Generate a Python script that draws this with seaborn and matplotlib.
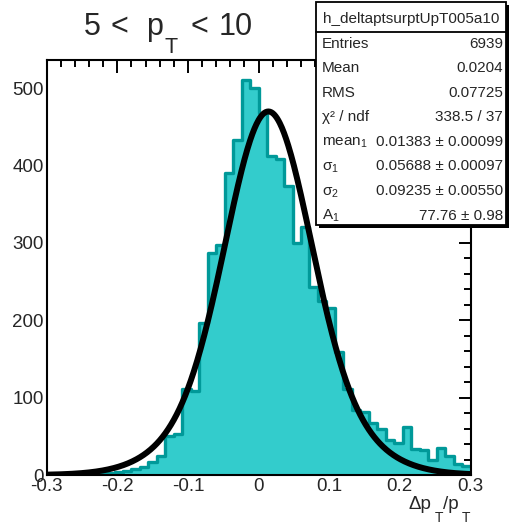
import numpy as np
import pandas as pd
import matplotlib
matplotlib.use("Agg")
import matplotlib.pyplot as plt
import seaborn as sns
from matplotlib.patches import Rectangle
from matplotlib.lines import Line2D
from matplotlib.ticker import MultipleLocator

# ---------------- data ----------------
bin_low = -0.3
bin_high = 0.3
n_bins = 50
counts = [1, 1, 1, 0, 2, 3, 3, 3, 4, 5,
          8, 10, 17, 24, 50, 53, 111, 108, 196, 287,
          298, 391, 433, 511, 500, 468, 412, 409, 373, 300,
          321, 243, 225, 216, 159, 111, 84, 81, 67, 60,
          45, 41, 62, 33, 32, 20, 35, 24, 14, 11]

# fit parameters (from stats box) + read peak height / core fraction
fit_mean = 0.01383
fit_sigma1 = 0.05688
fit_sigma2 = 0.09235
fit_peak = 470.0
fit_core_frac = 0.69

xtick_vals = [-0.3, -0.2, -0.1, 0.0, 0.1, 0.2, 0.3]
xtick_labels = ["-0.3", "-0.2", "-0.1", "0", "0.1", "0.2", "0.3"]
ytick_vals = [0, 100, 200, 300, 400, 500]
ytick_labels = ["0", "100", "200", "300", "400", "500"]

hist_name = "h_deltaptsurptUpT005a10"
stat_labels = ["Entries", "Mean", "RMS", "\u03c7\u00b2 / ndf", "mean$_1$",
               "\u03c3$_1$", "\u03c3$_2$", "A$_1$"]
stat_values = ["6939", "0.0204", "0.07725", "338.5 / 37",
               "0.01383 \u00b1 0.00099", "0.05688 \u00b1 0.00097",
               "0.09235 \u00b1 0.00550", "77.76 \u00b1 0.98"]

fill_color = "#33cccc"
line_color = "#009999"

# ---------------- style ----------------
sns.set_style("white")
plt.rcParams["font.family"] = ["Liberation Sans", "DejaVu Sans"]
plt.rcParams["mathtext.fontset"] = "custom"
plt.rcParams["mathtext.rm"] = "Liberation Sans"
plt.rcParams["mathtext.it"] = "Liberation Sans"
plt.rcParams["mathtext.bf"] = "Liberation Sans:bold"
plt.rcParams["axes.unicode_minus"] = False

W, H = 511, 524
def fx(px):
    return px / W
def fy(py):
    return 1 - py / H

fig = plt.figure(figsize=(W / 100, H / 100), dpi=100)
fig.patch.set_facecolor("white")
ax = fig.add_axes([fx(46.7), fy(475), (470.5 - 46.7) / W, (475 - 60) / H])
ax.set_facecolor("white")

edges = np.linspace(bin_low, bin_high, n_bins + 1)
centers = 0.5 * (edges[:-1] + edges[1:])
df = pd.DataFrame({"x": centers, "n": counts})

sns.histplot(data=df, x="x", weights="n", bins=n_bins, binrange=(bin_low, bin_high),
             element="step", fill=True, color=fill_color, alpha=1,
             edgecolor="none", linewidth=0, ax=ax)
sns.histplot(data=df, x="x", weights="n", bins=n_bins, binrange=(bin_low, bin_high),
             element="step", fill=False, color=line_color, linewidth=2.4, ax=ax)

xs = np.linspace(bin_low, bin_high, 601)
ys = fit_peak * (fit_core_frac * np.exp(-0.5 * ((xs - fit_mean) / fit_sigma1) ** 2)
                 + (1 - fit_core_frac) * np.exp(-0.5 * ((xs - fit_mean) / fit_sigma2) ** 2))
sns.lineplot(x=xs, y=ys, color="black", linewidth=4.3, ax=ax)

ax.set_xlim(bin_low, bin_high)
ax.set_ylim(0, 1.05 * max(counts))
ax.set_xticks(xtick_vals)
ax.set_xticklabels(xtick_labels)
ax.set_yticks(ytick_vals)
ax.set_yticklabels(ytick_labels)
ax.xaxis.set_minor_locator(MultipleLocator(0.02))
ax.yaxis.set_minor_locator(MultipleLocator(20))
ax.tick_params(which="both", direction="in", top=True, right=True,
               width=1.4, color="black", labelsize=13.5, pad=2)
ax.tick_params(which="major", length=9)
ax.tick_params(which="minor", length=4.7)
ax.set_xlabel("")
ax.set_ylabel("")
for s in ax.spines.values():
    s.set_linewidth(1.5)
    s.set_color("black")
    s.set_visible(True)

# ---------------- title ----------------
t_base = 35
fig.text(fx(92.5), fy(t_base), "5", fontsize=22, ha="center", va="baseline")
fig.text(fx(119), fy(t_base), "<", fontsize=22, ha="center", va="baseline")
fig.text(fx(155), fy(t_base), "p", fontsize=22, ha="center", va="baseline")
fig.text(fx(171), fy(53), "T", fontsize=15.5, ha="center", va="baseline")
fig.text(fx(199), fy(t_base), "<", fontsize=22, ha="center", va="baseline")
fig.text(fx(236), fy(t_base), "10", fontsize=22, ha="center", va="baseline")

# ---------------- x axis title ----------------
fig.text(fx(408.5), fy(509), "\u0394p", fontsize=13.5, ha="left", va="baseline")
fig.text(fx(434.5), fy(522.5), "T", fontsize=10, ha="left", va="baseline")
fig.text(fx(443), fy(509), "/p", fontsize=13.5, ha="left", va="baseline")
fig.text(fx(461.5), fy(522.5), "T", fontsize=10, ha="left", va="baseline")

# ---------------- stats box ----------------
bx0, bx1, by0, by1 = 316, 506, 2, 225
sh = 3
fig.patches.append(Rectangle((fx(bx0 + sh), fy(by1 + sh)), (bx1 - bx0) / W,
                             (by1 - by0) / H, transform=fig.transFigure,
                             facecolor="black", edgecolor="black", lw=0, zorder=5))
fig.patches.append(Rectangle((fx(bx0), fy(by1)), (bx1 - bx0) / W,
                             (by1 - by0) / H, transform=fig.transFigure,
                             facecolor="white", edgecolor="black", lw=1.3, zorder=6))
fig.lines.append(Line2D([fx(bx0), fx(bx1)], [fy(31.7), fy(31.7)],
                        transform=fig.transFigure, color="black", lw=1.3, zorder=7))
fig.text(fx(411), fy(22.5), hist_name, fontsize=11, ha="center",
         va="baseline", zorder=8)
for i, (lab, val) in enumerate(zip(stat_labels, stat_values)):
    yb = 47.5 + 24.6 * i
    fig.text(fx(321.5), fy(yb), lab, fontsize=11, ha="left", va="baseline", zorder=8)
    fig.text(fx(503), fy(yb), val, fontsize=11, ha="right", va="baseline", zorder=8)

fig.savefig("out.png", dpi=100, facecolor="white")
